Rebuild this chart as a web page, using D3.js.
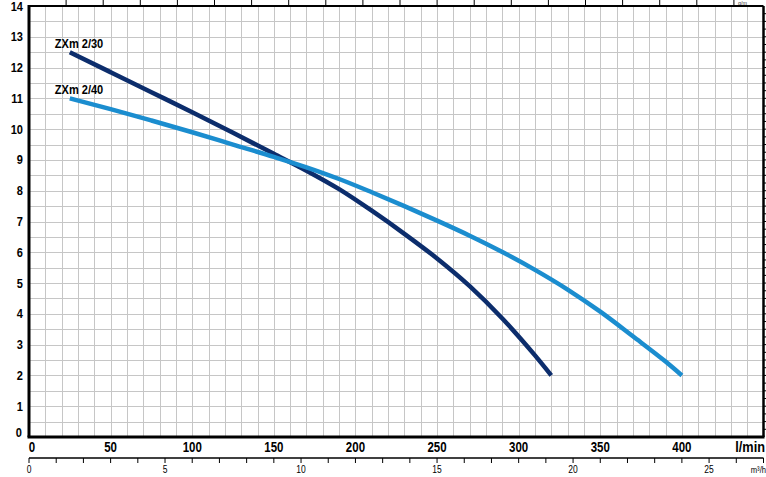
<!DOCTYPE html>
<html>
<head>
<meta charset="utf-8">
<script src="https://cdn.jsdelivr.net/npm/d3@7"></script>
<style>
  body { margin: 0; background: #fff; }
  svg { display: block; }
  .gridLines { stroke: #c6c6c6; stroke-width: 1; shape-rendering: crispEdges; }
  .frame { stroke: #000; fill: none; }
  text { font-family: "Liberation Sans", Arial, sans-serif; fill: #000; }
</style>
</head>
<body>
<script>
(function(){

//chart data
var flowLmin = [25, 50, 75, 100, 125, 150, 170, 190, 210, 230, 250, 270, 290, 310, 320];
var headZxm230 = [12.5, 11.85, 11.2, 10.55, 9.88, 9.2, 8.65, 8.05, 7.35, 6.6, 5.8, 4.9, 3.85, 2.65, 2.0];

var flowLmin40 = [25, 50, 75, 100, 125, 150, 170, 190, 210, 230, 250, 270, 290, 310, 330, 350, 370, 390, 400];
var headZxm240 = [11.0, 10.65, 10.28, 9.9, 9.5, 9.1, 8.76, 8.38, 7.95, 7.5, 7.03, 6.54, 6.01, 5.43, 4.79, 4.07, 3.27, 2.45, 2.0];

var seriesNames = ["ZXm 2/30", "ZXm 2/40"];
var seriesColors = ["#0c2d6c", "#1b8dcf"];

var lminTicks = [0, 50, 100, 150, 200, 250, 300, 350, 400];
var headTicks = [0, 1, 2, 3, 4, 5, 6, 7, 8, 9, 10, 11, 12, 13, 14];
var m3hTicks = [0, 5, 10, 15, 20, 25];

//begin script when window loads
window.onload = drawChart();

//narrow text: regular font squeezed horizontally
function narrowText(svg, x, y, txt, size, weight, anchor, squeeze){
    return svg.append("text")
        .attr("transform", "translate(" + x + "," + y + ") scale(" + squeeze + ",1)")
        .attr("text-anchor", anchor)
        .style("font-size", size + "px")
        .style("font-weight", weight)
        .text(txt);
};

function drawChart(){

    //frame dimensions
    var width = 766,
        height = 477;

    var left = 29, right = 763.5, top = 6, bottom = 437;

    var svg = d3.select("body")
        .append("svg")
        .attr("width", width)
        .attr("height", height);

    //scales
    var x = d3.scaleLinear().domain([0, 450]).range([left, right]);
    var y = d3.scaleLinear().domain([0, 14]).range([bottom, top]);

    //grid every 10 l/min and every 0.5 m
    svg.selectAll(".vGrid")
        .data(d3.range(10, 450, 10))
        .enter()
        .append("line")
        .attr("class", "gridLines")
        .attr("x1", function(d){ return Math.round(x(d)) + 0.5; })
        .attr("x2", function(d){ return Math.round(x(d)) + 0.5; })
        .attr("y1", top)
        .attr("y2", bottom);

    svg.selectAll(".hGrid")
        .data(d3.range(0.5, 14, 0.5))
        .enter()
        .append("line")
        .attr("class", "gridLines")
        .attr("x1", left)
        .attr("x2", right)
        .attr("y1", function(d){ return Math.round(y(d)) + 0.5; })
        .attr("y2", function(d){ return Math.round(y(d)) + 0.5; });

    //top axis ticks (gallons per minute), 5 gal = 22.73 l/min
    svg.selectAll(".topTick")
        .data(d3.range(1, 20))
        .enter()
        .append("line")
        .attr("x1", function(d){ return x(d * 22.73); })
        .attr("x2", function(d){ return x(d * 22.73); })
        .attr("y1", 0)
        .attr("y2", top)
        .attr("stroke", "#000")
        .attr("stroke-width", 1);

    narrowText(svg, 738, 5, "g/m", 6, "normal", "start", 0.9).style("fill", "#333");

    //right axis small ticks
    svg.selectAll(".rightTick")
        .data(d3.range(0.25, 14, 0.25))
        .enter()
        .append("line")
        .attr("x1", right)
        .attr("x2", width)
        .attr("y1", function(d){ return y(d); })
        .attr("y2", function(d){ return y(d); })
        .attr("stroke", "#000")
        .attr("stroke-width", 1);

    //frame
    svg.append("line").attr("class", "frame")
        .attr("x1", left).attr("x2", right).attr("y1", top).attr("y2", top)
        .attr("stroke-width", 2);
    svg.append("line").attr("class", "frame")
        .attr("x1", right).attr("x2", right).attr("y1", top).attr("y2", bottom)
        .attr("stroke-width", 2.5);
    svg.append("line").attr("class", "frame")
        .attr("x1", left - 1.5).attr("x2", right + 1).attr("y1", bottom).attr("y2", bottom)
        .attr("stroke-width", 3);
    svg.append("line").attr("class", "frame")
        .attr("x1", left).attr("x2", left).attr("y1", top - 1).attr("y2", bottom)
        .attr("stroke-width", 3);

    //head labels
    headTicks.forEach(function(d){
        narrowText(svg, d == 0 ? 22 : 23, d == 0 ? y(d) : y(d) + 4.5, d, 13, "bold", "end", 0.85);
    });

    //flow labels l/min
    lminTicks.forEach(function(d){
        narrowText(svg, d == 0 ? x(d) + 3 : x(d), 452, d, 14, "bold", "middle", 0.82);
    });

    narrowText(svg, 765, 452, "l/min", 15, "bold", "end", 0.85);

    //m3/h axis below
    var m3Axis = 458;
    svg.append("line")
        .attr("x1", left).attr("x2", right)
        .attr("y1", m3Axis).attr("y2", m3Axis)
        .attr("stroke", "#000").attr("stroke-width", 1.5);

    svg.selectAll(".m3Tick")
        .data(d3.range(0, 28))
        .enter()
        .append("line")
        .attr("x1", function(d){ return x(d * 1000 / 60); })
        .attr("x2", function(d){ return x(d * 1000 / 60); })
        .attr("y1", m3Axis)
        .attr("y2", m3Axis + 5)
        .attr("stroke", "#000")
        .attr("stroke-width", 1);

    m3hTicks.forEach(function(d){
        narrowText(svg, x(d * 1000 / 60), 473, d, 10, "normal", "middle", 0.85);
    });

    narrowText(svg, 766, 473, "m\u00b3/h", 9, "normal", "end", 0.85);

    //curves
    var curves = [
        {name: seriesNames[0], color: seriesColors[0], q: flowLmin, h: headZxm230},
        {name: seriesNames[1], color: seriesColors[1], q: flowLmin40, h: headZxm240}
    ];

    var line = d3.line()
        .x(function(d){ return x(d[0]); })
        .y(function(d){ return y(d[1]); })
        .curve(d3.curveMonotoneX);

    curves.forEach(function(c){
        var pts = c.q.map(function(q, i){ return [q, c.h[i]]; });

        svg.append("path")
            .attr("d", line(pts))
            .attr("fill", "none")
            .attr("stroke", c.color)
            .attr("stroke-width", 4.5);

        narrowText(svg, x(c.q[0]) - 15, y(c.h[0]) - 4, c.name, 13, "bold", "start", 0.85);
    });
};

})();
</script>
</body>
</html>
